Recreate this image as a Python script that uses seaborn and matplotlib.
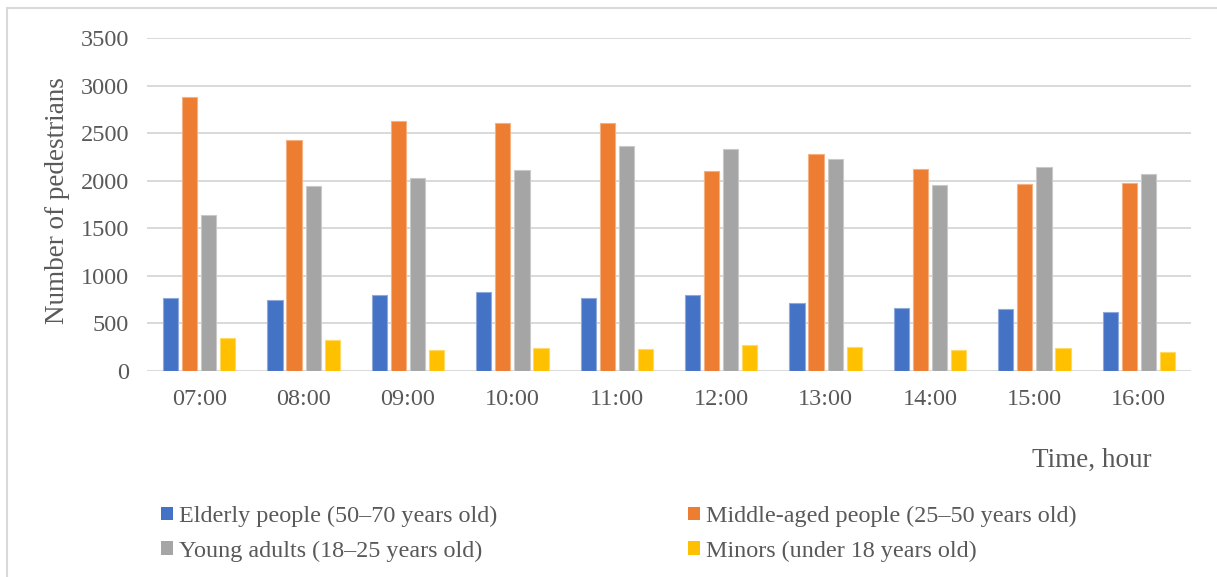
import matplotlib
matplotlib.use("Agg")
import matplotlib.pyplot as plt
from matplotlib.patches import Patch, Rectangle
import pandas as pd
import seaborn as sns

hours = ["07:00", "08:00", "09:00", "10:00", "11:00",
         "12:00", "13:00", "14:00", "15:00", "16:00"]
elderly = [772, 744, 797, 835, 772, 804, 716, 660, 653, 615]
middle_aged = [2883, 2432, 2624, 2603, 2607, 2107, 2285, 2128, 1967, 1978]
young_adults = [1642, 1946, 2030, 2117, 2369, 2338, 2226, 1960, 2149, 2072]
minors = [349, 325, 220, 241, 231, 273, 255, 224, 241, 202]

groups = ["Elderly people (50\u201370 years old)",
          "Middle-aged people (25\u201350 years old)",
          "Young adults (18\u201325 years old)",
          "Minors (under 18 years old)"]
colors = ["#4472C4", "#ED7D31", "#A5A5A5", "#FFC000"]
edge_colors = ["#8FA9DC", "#F4B183", "#C9C9C9", "#FFD966"]

series = [elderly, middle_aged, young_adults, minors]
df = pd.DataFrame({
    "hour": hours * len(groups),
    "group": [g for g in groups for _ in hours],
    "count": [v for s in series for v in s],
})

sns.set_theme(style="white")
plt.rcParams["font.family"] = ["Liberation Serif", "DejaVu Serif"]

W, H = 1217, 577
fig = plt.figure(figsize=(W / 100, H / 100), dpi=100)
ax = fig.add_axes([147 / W, 1 - 371 / H, (1191 - 147) / W, (371 - 38) / H])

sns.barplot(data=df, x="hour", y="count", hue="group", order=hours,
            hue_order=groups, palette=colors, width=0.73, gap=0.2,
            saturation=1, legend=False, ax=ax)

# light outline on each bar
for i, container in enumerate(ax.containers):
    for bar in container:
        bar.set_edgecolor(edge_colors[i])
        bar.set_linewidth(0.8)

ax.set_ylim(0, 3500)
ax.set_xlim(-0.5, len(hours) - 0.5)
ax.set_yticks(range(0, 3501, 500))
ax.yaxis.grid(True, color="#D9D9D9", linewidth=1.4)
ax.set_axisbelow(True)
for s in ax.spines.values():
    s.set_visible(False)
ax.tick_params(axis="both", length=0, labelsize=17.5, labelcolor="#595959")
ax.tick_params(axis="y", pad=13)
ax.tick_params(axis="x", pad=13)
ax.set_xlabel("")
ax.set_ylabel("")

fig.text(57 / W, 1 - 201 / H, "Number of pedestrians", rotation=90,
         ha="center", va="center", fontsize=19.5, color="#595959")
fig.text(1152 / W, 1 - 460 / H, "Time, hour", ha="right", va="center",
         fontsize=19.5, color="#595959")

# two legend rows: elderly / middle-aged, then young adults / minors
order = [0, 2, 1, 3]
handles = [Patch(facecolor=colors[i], edgecolor="none") for i in order]
labels = [groups[i] for i in order]
fig.legend(handles, labels, ncol=2, loc="upper left",
           bbox_to_anchor=(161 / W, 1 - 506 / H), frameon=False,
           fontsize=17.4, labelcolor="#595959", handlelength=0.5,
           handleheight=0.5, handletextpad=0.25, columnspacing=7.9,
           labelspacing=0.55, borderaxespad=0, borderpad=0)

# outer chart frame
fig.patches.append(Rectangle((6.5 / W, -0.05), 1.2, 1 - 8 / H + 0.05,
                             transform=fig.transFigure, fill=False,
                             edgecolor="#D9D9D9", linewidth=1.5))

fig.savefig("out.png", dpi=100)
